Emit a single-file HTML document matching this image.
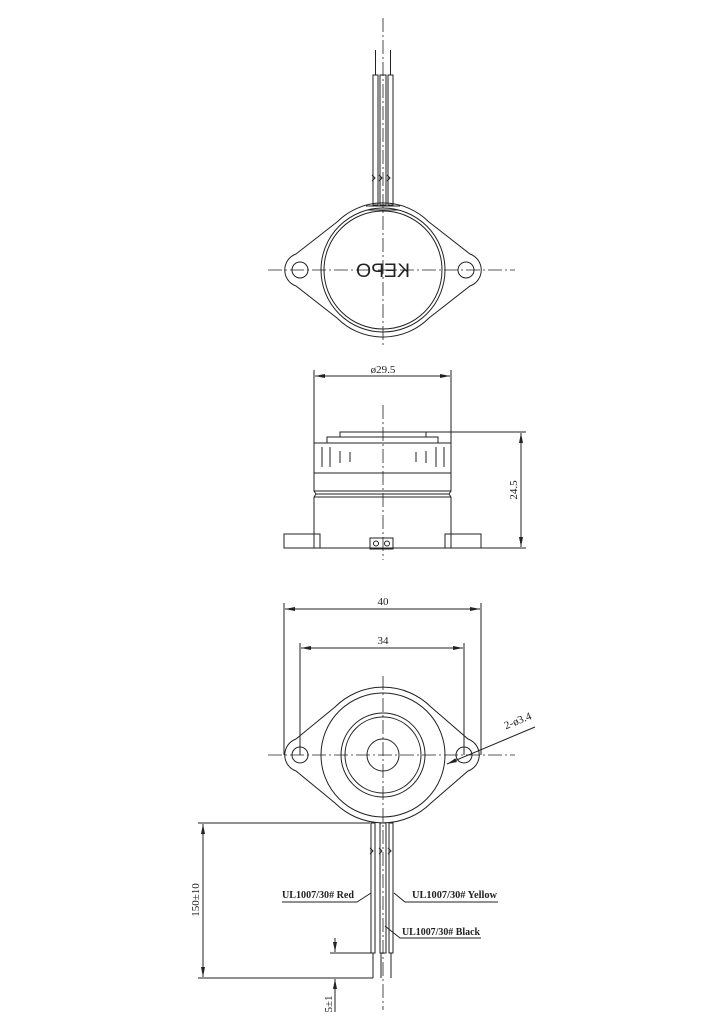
<!DOCTYPE html>
<html><head><meta charset="utf-8"><style>
html,body{margin:0;padding:0;background:#fff}
svg{display:block}
text{font-family:"Liberation Serif",serif;fill:#222}
</style></head><body>
<svg width="724" height="1024" viewBox="0 0 724 1024" xmlns="http://www.w3.org/2000/svg">
<defs>
<marker id="a" viewBox="0 0 10 6" refX="10" refY="3" markerWidth="10" markerHeight="6" orient="auto-start-reverse" markerUnits="userSpaceOnUse"><path d="M0,1 L10,3 L0,5z" fill="#222"/></marker>
</defs>
<g fill="none" stroke="#222" stroke-width="1">
<g stroke-dasharray="14,3,2,3" stroke-width="0.8">
<line x1="383" y1="18" x2="383" y2="345"/>
<line x1="268" y1="270" x2="515" y2="270"/>
<line x1="383" y1="405" x2="383" y2="560"/>
<line x1="383" y1="676" x2="383" y2="1010"/>
<line x1="268" y1="755" x2="515" y2="755"/>
</g>
<path d="M296,254 L337,222 A65,65 0 0 1 429,222 L470,254 A17,17 0 0 1 470,286 L429,318 A65,65 0 0 1 337,318 L296,286 A17,17 0 0 1 296,254Z"/>
<circle cx="383" cy="270" r="62"/>
<circle cx="383" cy="270" r="59"/>
<circle cx="300" cy="270" r="8"/>
<circle cx="466" cy="270" r="8"/>
<rect x="373" y="75" width="5" height="130"/>
<rect x="380" y="75" width="6" height="130"/>
<rect x="388" y="75" width="5" height="130"/>
<line x1="375.5" y1="50" x2="375.5" y2="75"/>
<line x1="390.5" y1="50" x2="390.5" y2="75"/>
<path d="M372,175 l3,3 l-3,3 M379,175 l3,3 l-3,3 M387,175 l3,3 l-3,3"/>
<path d="M366,206 L400,206 M367,210 L399,210"/>
<line x1="314" y1="370" x2="314" y2="443"/>
<line x1="451" y1="370" x2="451" y2="443"/>
<line x1="315" y1="376" x2="450" y2="376" marker-start="url(#a)" marker-end="url(#a)"/>
<rect x="340" y="432" width="86" height="5"/>
<rect x="327" y="437" width="111" height="6"/>
<rect x="314" y="443" width="137" height="30"/>
<rect x="314" y="473" width="137" height="18"/>
<path d="M314,491 L316,494 L314,497 M451,491 L449,494 L451,497 M316,494 L449,494"/>
<path d="M314,497 L314,548 M451,497 L451,548 M314,497 L451,497"/>
<path d="M322,447 v20 M330,447 v20 M340,451 v12 M350,452 v10 M416,452 v10 M426,451 v12 M436,447 v20 M444,447 v20"/>
<rect x="284" y="534" width="36" height="14"/>
<rect x="445" y="534" width="36" height="14"/>
<line x1="320" y1="548" x2="445" y2="548"/>
<rect x="370" y="538" width="23" height="11"/>
<circle cx="376" cy="543.5" r="2.5"/>
<circle cx="387" cy="543.5" r="2.5"/>
<line x1="426" y1="432" x2="526" y2="432"/>
<line x1="481" y1="548" x2="526" y2="548"/>
<line x1="521" y1="433" x2="521" y2="547" marker-start="url(#a)" marker-end="url(#a)"/>
<line x1="284" y1="603" x2="284" y2="755"/>
<line x1="481" y1="603" x2="481" y2="755"/>
<line x1="285" y1="609" x2="480" y2="609" marker-start="url(#a)" marker-end="url(#a)"/>
<line x1="300" y1="643" x2="300" y2="755"/>
<line x1="464" y1="643" x2="464" y2="755"/>
<line x1="301" y1="648" x2="463" y2="648" marker-start="url(#a)" marker-end="url(#a)"/>
<path d="M296,739 L335,707 A68,68 0 0 1 431,707 L468,739 A17,17 0 0 1 468,771 L431,803 A68,68 0 0 1 335,803 L296,771 A17,17 0 0 1 296,739Z"/>
<circle cx="383" cy="755" r="62"/>
<circle cx="383" cy="755" r="42"/>
<circle cx="383" cy="755" r="38"/>
<circle cx="383" cy="755" r="16"/>
<circle cx="300" cy="755" r="8"/>
<circle cx="464" cy="755" r="8"/>
<line x1="535" y1="727" x2="447" y2="764" marker-end="url(#a)"/>
<rect x="371" y="823" width="4" height="130"/>
<rect x="380" y="823" width="6" height="130"/>
<rect x="389" y="823" width="4" height="130"/>
<line x1="391" y1="953" x2="391" y2="978"/>
<line x1="381" y1="953" x2="381" y2="978"/>
<line x1="373" y1="953" x2="373" y2="978"/>
<path d="M370,848 l3,3 l-3,3 M379,848 l3,3 l-3,3 M388,848 l3,3 l-3,3"/>
<line x1="198" y1="823" x2="370" y2="823"/>
<line x1="198" y1="978" x2="373" y2="978"/>
<line x1="203" y1="824" x2="203" y2="977" marker-start="url(#a)" marker-end="url(#a)"/>
<line x1="330" y1="953" x2="371" y2="953"/>
<line x1="335" y1="938" x2="335" y2="952" marker-end="url(#a)"/>
<line x1="335" y1="1012" x2="335" y2="979" marker-end="url(#a)"/>
<path d="M282,902 L357,902 L371,893" />
<path d="M498,902 L405,902 L394,893" />
<path d="M481,938 L400,938 L385,926" />
</g>
<text x="383" y="373" font-size="11" text-anchor="middle" font-family="Liberation Mono">ø29.5</text>
<text transform="translate(517,490) rotate(-90)" font-size="11" text-anchor="middle" font-family="Liberation Mono">24.5</text>
<text x="383" y="605" font-size="11" text-anchor="middle" font-family="Liberation Mono">40</text>
<text x="383" y="644" font-size="11" text-anchor="middle" font-family="Liberation Mono">34</text>
<text transform="translate(519,724) rotate(-22)" font-size="11" text-anchor="middle" font-family="Liberation Mono">2-ø3.4</text>
<text transform="translate(199,900) rotate(-90)" font-size="11" text-anchor="middle">150±10</text>
<text transform="translate(332,1004) rotate(-90)" font-size="11" text-anchor="middle">5±1</text>
<text x="282" y="898" font-size="11" font-weight="bold" textLength="72" lengthAdjust="spacingAndGlyphs">UL1007/30# Red</text>
<text x="412" y="898" font-size="11" font-weight="bold" textLength="85" lengthAdjust="spacingAndGlyphs">UL1007/30# Yellow</text>
<text x="402" y="935" font-size="11" font-weight="bold" textLength="78" lengthAdjust="spacingAndGlyphs">UL1007/30# Black</text>
<text transform="translate(383,277) scale(-1,1)" font-size="19" text-anchor="middle" style="font-family:'Liberation Sans',sans-serif" textLength="54" lengthAdjust="spacingAndGlyphs">KEPO</text>
</svg>
</body></html>
